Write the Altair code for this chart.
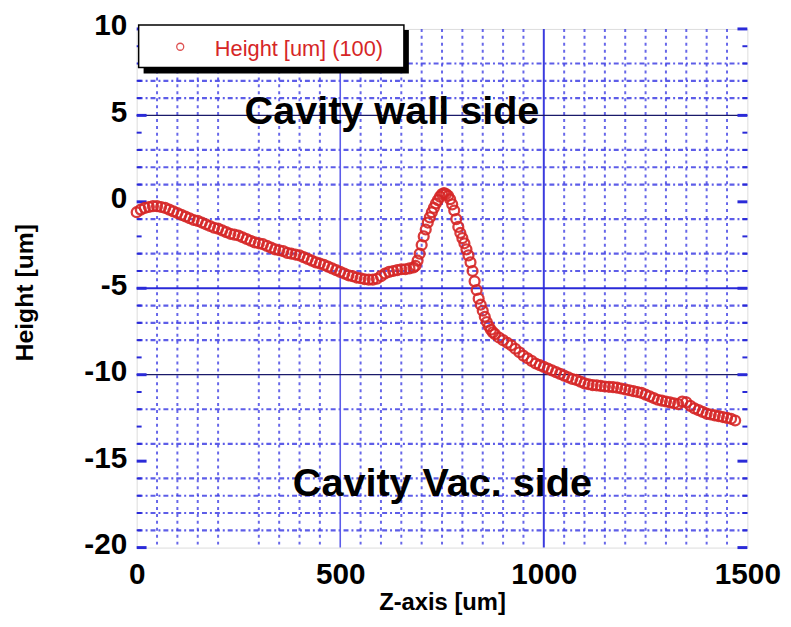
import altair as alt
import pandas as pd

z_um = [0, 10, 20, 30, 40, 50, 60, 70, 80, 90,
        100, 110, 120, 130, 140, 150, 160, 170, 180, 190,
        200, 210, 220, 230, 240, 250, 260, 270, 280, 290,
        300, 310, 320, 330, 340, 350, 360, 370, 380, 390,
        400, 410, 420, 430, 440, 450, 460, 470, 480, 490,
        500, 510, 520, 530, 540, 550, 560, 570, 580, 590,
        600, 610, 620, 630, 640, 650, 660, 670, 680,
        685, 690, 695, 700, 705, 710, 715, 720, 725, 730,
        735, 740, 745, 750, 755, 760, 765, 770, 775, 780,
        785, 790, 795, 800, 805, 810, 815, 820, 825, 830,
        835, 840, 845, 850, 855, 860, 865, 870, 875,
        880, 890, 900, 910, 920, 930, 940, 950, 960, 970,
        980, 990, 1000, 1010, 1020, 1030, 1040, 1050, 1060, 1070,
        1080, 1090, 1100, 1110, 1120, 1130, 1140, 1150, 1160, 1170,
        1180, 1190, 1200, 1210, 1220, 1230, 1240, 1250, 1260, 1270,
        1280, 1290, 1300, 1310, 1320, 1330, 1340, 1350, 1360, 1370,
        1380, 1390, 1400, 1410, 1420, 1430, 1440, 1450, 1460, 1470]

height_um = [-0.6, -0.45, -0.35, -0.3, -0.25, -0.25, -0.3, -0.35, -0.45, -0.55,
             -0.65, -0.75, -0.85, -0.95, -1.05, -1.1, -1.2, -1.3, -1.4, -1.5,
             -1.55, -1.65, -1.75, -1.85, -1.9, -1.95, -2.05, -2.15, -2.25, -2.35,
             -2.4, -2.45, -2.55, -2.65, -2.75, -2.8, -2.85, -2.95, -3.0, -3.05,
             -3.1, -3.2, -3.3, -3.4, -3.5, -3.57, -3.65, -3.75, -3.85, -3.95,
             -4.05, -4.15, -4.25, -4.3, -4.38, -4.42, -4.48, -4.5, -4.5, -4.45,
             -4.3, -4.15, -4.05, -4.0, -3.95, -3.9, -3.9, -3.85, -3.8,
             -3.7, -3.4, -3.0, -2.5, -2.0, -1.6, -1.2, -0.9, -0.6, -0.35,
             -0.1, 0.1, 0.3, 0.45, 0.5, 0.45, 0.35, 0.15, -0.15, -0.5,
             -1.0, -1.45, -1.8, -2.1, -2.4, -2.75, -3.1, -3.5, -4.0, -4.6,
             -5.1, -5.6, -5.95, -6.3, -6.65, -6.95, -7.2, -7.4, -7.55,
             -7.65, -7.85, -8.0, -8.15, -8.3, -8.5, -8.7, -8.9, -9.05, -9.2,
             -9.35, -9.45, -9.55, -9.65, -9.75, -9.85, -9.95, -10.05, -10.15, -10.25,
             -10.3, -10.4, -10.5, -10.55, -10.6, -10.62, -10.65, -10.68, -10.7, -10.72,
             -10.75, -10.8, -10.85, -10.9, -10.95, -11.0, -11.05, -11.15, -11.25, -11.35,
             -11.45, -11.5, -11.55, -11.6, -11.65, -11.7, -11.55, -11.6, -11.8, -11.95,
             -12.05, -12.15, -12.25, -12.3, -12.35, -12.4, -12.45, -12.5, -12.55, -12.65]

# ---- axes / grid ----
x_ticks = [0, 500, 1000, 1500]
y_ticks = [10, 5, 0, -5, -10, -15, -20]
x_minor = [50, 100, 150, 200, 300, 350, 400, 450, 550, 600, 650, 700, 750, 800,
           850, 900, 950, 1050, 1100, 1150, 1200, 1250, 1300, 1350, 1400, 1450]
y_minor = [8, 7, 6, 3, 2, 1, -1, -3, -4, -6, -7, -8, -12, -14, -16, -17, -18, -19]
x_light_lines = [500]
x_major_lines = [1000]
y_blue_lines = [-5]
y_dark_lines = [5, -10]
y_small_ticks = [9, 8, 7, 6, 4, 3, 2, 1, -1, -2, -3, -4, -6, -7, -8, -9,
                 -11, -12, -13, -14, -16, -17, -18, -19]
y_big_ticks = [10, 5, 0, -5, -10, -15, -20]

legend_label = ["Height [um] (100)"]
notes = ["Cavity wall side", "Cavity Vac. side"]
note_z = [627, 751]
note_h = [4.5, -17.0]

W, H = 617, 524
FONT = "Liberation Sans"
RED = "#d62626"
BLUE = "#4141e4"

xs = alt.Scale(domain=[0, 1500], nice=False, zero=False)
ys = alt.Scale(domain=[-20, 10], nice=False, zero=False)

df = pd.DataFrame({"z": z_um, "h": height_um})

# minor dotted grid
vminor = alt.Chart(pd.DataFrame({"z": x_minor})).mark_rule(
    color=BLUE, strokeWidth=2, strokeDash=[3, 4], opacity=0.8
).encode(x=alt.X("z:Q", scale=xs))
hminor = alt.Chart(pd.DataFrame({"h": y_minor})).mark_rule(
    color=BLUE, strokeWidth=2.2, strokeDash=[5, 3, 2, 3], opacity=0.85
).encode(y=alt.Y("h:Q", scale=ys))

vlight = alt.Chart(pd.DataFrame({"z": x_light_lines})).mark_rule(
    color="#5c5cea", strokeWidth=1.6
).encode(x=alt.X("z:Q", scale=xs))
vmajor = alt.Chart(pd.DataFrame({"z": x_major_lines})).mark_rule(
    color="#3a3ade", strokeWidth=2
).encode(x=alt.X("z:Q", scale=xs))
hblue = alt.Chart(pd.DataFrame({"h": y_blue_lines})).mark_rule(
    color="#2a2ad8", strokeWidth=2.2
).encode(y=alt.Y("h:Q", scale=ys))
hdark = alt.Chart(pd.DataFrame({"h": y_dark_lines})).mark_rule(
    color="#1a1a6a", strokeWidth=1.2
).encode(y=alt.Y("h:Q", scale=ys))

# inward ticks on left and right
small_df = pd.DataFrame({"h": y_small_ticks})
big_df = pd.DataFrame({"h": y_big_ticks})
lt_small = alt.Chart(small_df).mark_rule(color="#2a2ad8", strokeWidth=2).encode(
    y=alt.Y("h:Q", scale=ys), x=alt.value(0), x2=alt.value(5))
rt_small = alt.Chart(small_df).mark_rule(color="#2a2ad8", strokeWidth=2).encode(
    y=alt.Y("h:Q", scale=ys), x=alt.value(W - 5), x2=alt.value(W))
lt_big = alt.Chart(big_df).mark_rule(color="#2a2ad8", strokeWidth=3).encode(
    y=alt.Y("h:Q", scale=ys), x=alt.value(0), x2=alt.value(10))
rt_big = alt.Chart(big_df).mark_rule(color="#2a2ad8", strokeWidth=3).encode(
    y=alt.Y("h:Q", scale=ys), x=alt.value(W - 10), x2=alt.value(W))

points = alt.Chart(df).mark_point(
    shape="circle", filled=False, size=100, strokeWidth=2.3, color=RED, opacity=0.9
).encode(
    x=alt.X("z:Q", scale=xs, title="Z-axis [um]",
            axis=alt.Axis(values=x_ticks, grid=False, ticks=False, domain=False,
                          labelFont=FONT, labelFontSize=30, labelFontWeight="bold",
                          labelColor="black", labelFlush=False, labelPadding=12,
                          labelBaseline="top",
                          labelExpr="'' + datum.value",
                          titleFont=FONT, titleFontSize=24, titleFontWeight="bold",
                          titleColor="black", titleY=63, titleBaseline="alphabetic")),
    y=alt.Y("h:Q", scale=ys, title="Height [um]",
            axis=alt.Axis(values=y_ticks, grid=False, ticks=False, domain=False,
                          labelFont=FONT, labelFontSize=30, labelFontWeight="bold",
                          labelColor="black", labelPadding=10, labelOffset=-3,
                          labelBaseline="middle",
                          labelExpr="'' + datum.value",
                          titleFont=FONT, titleFontSize=25, titleFontWeight="bold",
                          titleColor="black", titleX=-113, titleY=H / 2 + 4,
                          titleBaseline="middle", titleAlign="center", titleAngle=270)),
)

note_layer = alt.Chart(pd.DataFrame({"z": note_z, "h": note_h, "t": notes})).mark_text(
    font=FONT, fontSize=40, fontWeight="bold", color="black",
    align="center", baseline="alphabetic"
).encode(x=alt.X("z:Q", scale=xs), y=alt.Y("h:Q", scale=ys), text="t:N")

leg_df = pd.DataFrame({"label": legend_label})
leg_shadow = alt.Chart(leg_df).mark_rect(color="black").encode(
    x=alt.value(7), x2=alt.value(275), y=alt.value(1), y2=alt.value(45))
leg_box = alt.Chart(leg_df).mark_rect(fill="white", stroke="black", strokeWidth=1.5).encode(
    x=alt.value(2), x2=alt.value(270), y=alt.value(-4), y2=alt.value(39))
leg_sym = alt.Chart(leg_df).mark_point(
    shape="circle", filled=False, size=50, strokeWidth=1.3, color=RED, opacity=0.8
).encode(x=alt.value(44), y=alt.value(18))
leg_text = alt.Chart(leg_df).mark_text(
    font=FONT, fontSize=22, color=RED, align="left", baseline="middle"
).encode(x=alt.value(79), y=alt.value(20), text="label:N")

chart = alt.layer(
    vminor, hminor, vlight, vmajor, hblue, hdark,
    lt_small, rt_small, lt_big, rt_big,
    points, note_layer,
    leg_shadow, leg_box, leg_sym, leg_text,
).properties(
    width=W, height=H,
    autosize=alt.AutoSizeParams(type="none"),
    padding={"left": 130, "top": 18, "right": 36, "bottom": 70},
).configure_view(
    stroke="#2626d6", strokeWidth=2.5
).configure(background="white")

chart.save("out.html", embed_options={"renderer": "svg", "actions": False})
